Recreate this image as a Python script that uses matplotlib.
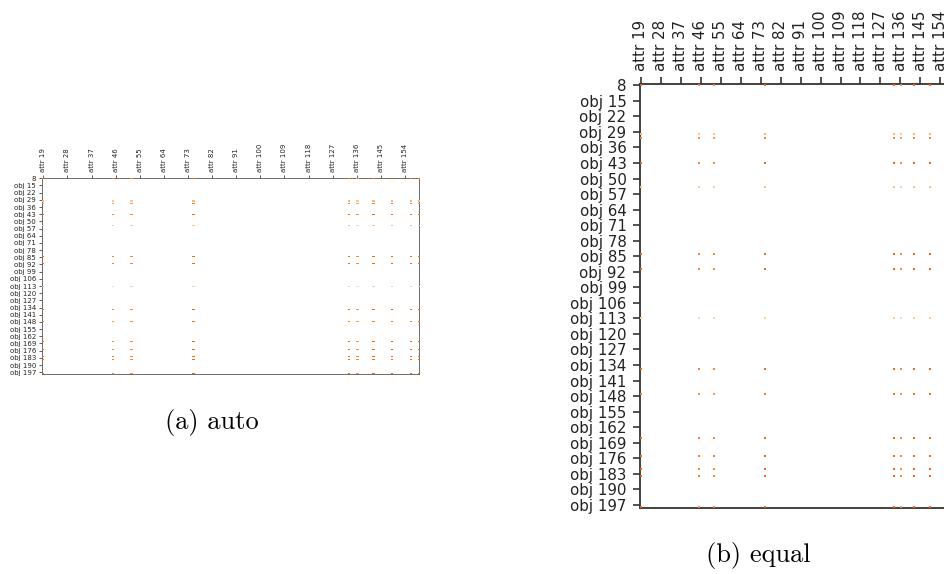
import numpy as np
import matplotlib
matplotlib.use("Agg")
import matplotlib.pyplot as plt

# matrix size (objects x attributes)
n_rows = 191
n_cols = 141

# rows / columns holding a value and their strength
active_rows = [0, 22, 24, 35, 46, 76, 83, 105, 128, 139, 159, 167, 173, 176, 190]
row_strength = [1.0, 0.55, 0.85, 1.0, 0.5, 1.0, 1.0, 0.42, 1.0, 0.9, 1.0, 1.0, 1.0, 1.0, 1.0]
active_cols = [0, 26, 33, 56, 114, 117, 123, 130, 137, 140]
col_strength = [1.0, 0.85, 0.85, 1.0, 1.0, 0.8, 1.0, 1.0, 1.0, 1.0]

xtick_labels = ["attr 19", "attr 28", "attr 37", "attr 46", "attr 55", "attr 64",
                "attr 73", "attr 82", "attr 91", "attr 100", "attr 109", "attr 118",
                "attr 127", "attr 136", "attr 145", "attr 154"]
ytick_labels = ["8", "obj 15", "obj 22", "obj 29", "obj 36", "obj 43", "obj 50",
                "obj 57", "obj 64", "obj 71", "obj 78", "obj 85", "obj 92", "obj 99",
                "obj 106", "obj 113", "obj 120", "obj 127", "obj 134", "obj 141",
                "obj 148", "obj 155", "obj 162", "obj 169", "obj 176", "obj 183",
                "obj 190", "obj 197"]

mat = np.zeros((n_rows, n_cols))
mat[np.ix_(active_rows, active_cols)] = np.outer(row_strength, col_strength)
mat = np.ma.masked_equal(mat, 0)

W, H = 945, 574
fig = plt.figure(figsize=(W / 100, H / 100), dpi=100)

m = 0.4  # bit of the edge cells left showing


def make_axes(x0, y0, cx, cy):
    # x0, y0 = pixel centre of the first cell, cx, cy = cell size in pixels
    left = x0 - m * cx
    top = y0 - m * cy
    w = (n_cols - 1 + 2 * m) * cx
    h = (n_rows - 1 + 2 * m) * cy
    return fig.add_axes([left / W, 1 - (top + h) / H, w / W, h / H])


def draw(ax, fs, tlen, twid, pad, lw, spine_col):
    ax.imshow(mat, cmap="Oranges", vmin=0, vmax=1.6, aspect="auto",
              interpolation="nearest", zorder=3)
    ax.set_xlim(-m, n_cols - 1 + m)
    ax.set_ylim(n_rows - 1 + m, -m)
    ax.xaxis.tick_top()
    ax.set_xticks(np.arange(len(xtick_labels)) * 9)
    ax.set_xticklabels(xtick_labels, rotation=90, fontsize=fs)
    ax.set_yticks(np.arange(len(ytick_labels)) * 7)
    ax.set_yticklabels(ytick_labels, fontsize=fs)
    ax.tick_params(length=tlen, width=twid, pad=pad, colors="#222222")
    for s in ax.spines.values():
        s.set_linewidth(lw)
        s.set_color(spine_col)


# (a) auto
ax1 = make_axes(43.3, 178.3, 2.679, 1.026)
draw(ax1, 5, 2.3, 0.5, 2.2, 0.6, "#555555")

# (b) equal - runs off the right edge like in the document
ax2 = make_axes(640.7, 85.3, 2.22, 2.22)
draw(ax2, 10.8, 5, 1.1, 4.6, 1.3, "#333333")

fig.text(212 / W, 1 - 422 / H, "(a) auto", ha="center", va="center",
         fontfamily="cmr10", fontsize=19)
fig.text(758.7 / W, 1 - 555.7 / H, "(b) equal", ha="center", va="center",
         fontfamily="cmr10", fontsize=19)

fig.savefig("out.png", dpi=100)
